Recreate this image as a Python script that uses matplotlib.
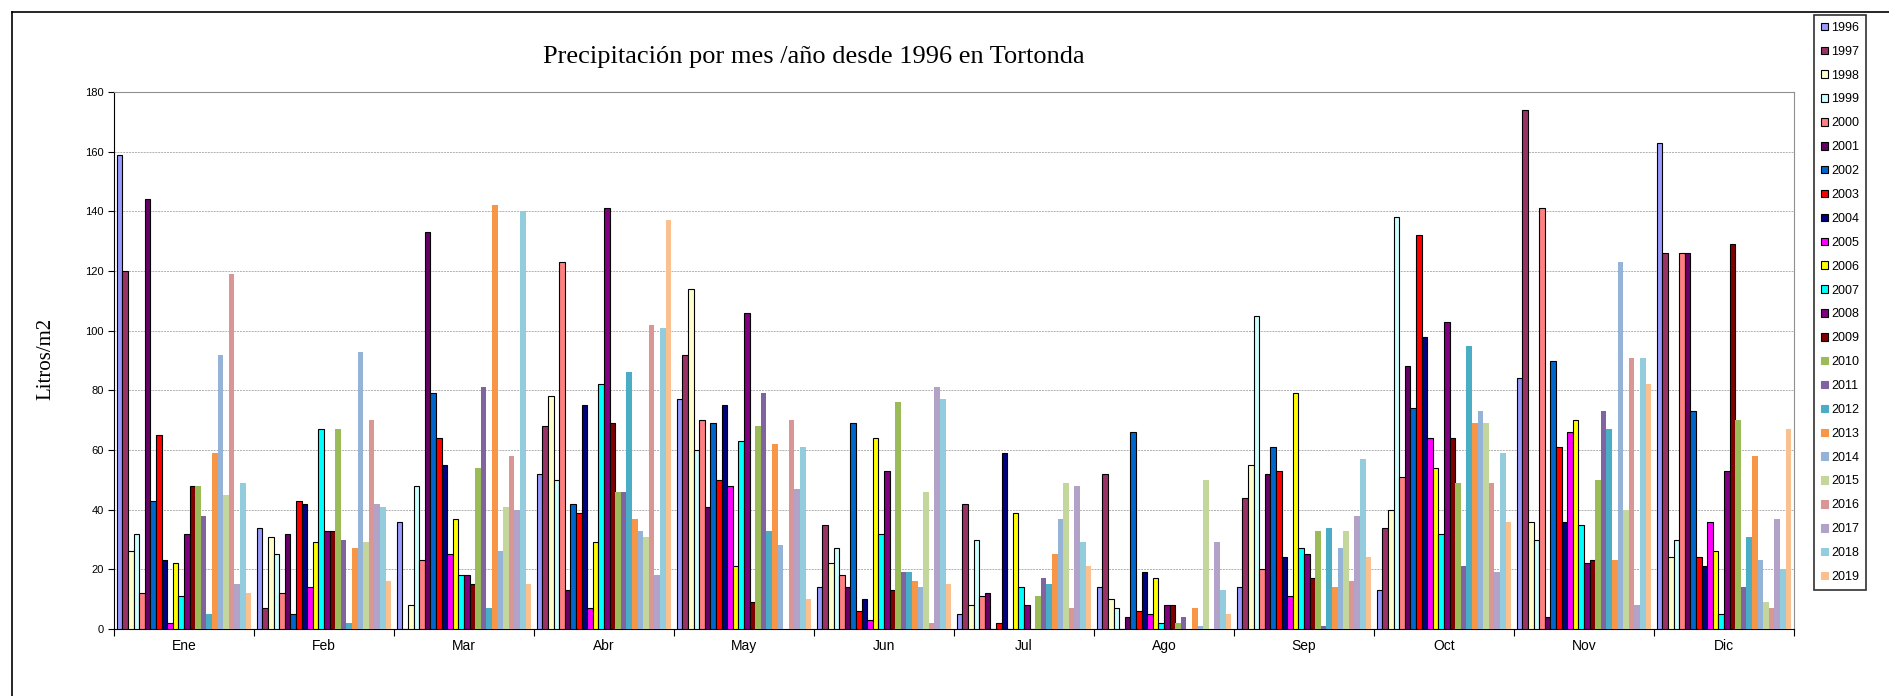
import numpy as np
import matplotlib
matplotlib.use("Agg")
import matplotlib.pyplot as plt
from matplotlib.patches import Patch
from matplotlib.lines import Line2D

meses = ["Ene", "Feb", "Mar", "Abr", "May", "Jun", "Jul", "Ago", "Sep", "Oct", "Nov", "Dic"]
anios = [str(a) for a in range(1996, 2020)]

# litros/m2 por año, un valor por mes (Ene..Dic)
y1996 = [159, 34, 36, 52, 77, 14, 5, 14, 14, 13, 84, 163]
y1997 = [120, 7, 0, 68, 92, 35, 42, 52, 44, 34, 174, 126]
y1998 = [26, 31, 8, 78, 114, 22, 8, 10, 55, 40, 36, 24]
y1999 = [32, 25, 48, 50, 60, 27, 30, 7, 105, 138, 30, 30]
y2000 = [12, 12, 23, 123, 70, 18, 11, 0, 20, 51, 141, 126]
y2001 = [144, 32, 133, 13, 41, 14, 12, 4, 52, 88, 4, 126]
y2002 = [43, 5, 79, 42, 69, 69, 0, 66, 61, 74, 90, 73]
y2003 = [65, 43, 64, 39, 50, 6, 2, 6, 53, 132, 61, 24]
y2004 = [23, 42, 55, 75, 75, 10, 59, 19, 24, 98, 36, 21]
y2005 = [2, 14, 25, 7, 48, 3, 0, 5, 11, 64, 66, 36]
y2006 = [22, 29, 37, 29, 21, 64, 39, 17, 79, 54, 70, 26]
y2007 = [11, 67, 18, 82, 63, 32, 14, 2, 27, 32, 35, 5]
y2008 = [32, 33, 18, 141, 106, 53, 8, 8, 25, 103, 22, 53]
y2009 = [48, 33, 15, 69, 9, 13, 0, 8, 17, 64, 23, 129]
y2010 = [48, 67, 54, 46, 68, 76, 11, 2, 33, 49, 50, 70]
y2011 = [38, 30, 81, 46, 79, 19, 17, 4, 1, 21, 73, 14]
y2012 = [5, 2, 7, 86, 33, 19, 15, 0, 34, 95, 67, 31]
y2013 = [59, 27, 142, 37, 62, 16, 25, 7, 14, 69, 23, 58]
y2014 = [92, 93, 26, 33, 28, 14, 37, 1, 27, 73, 123, 23]
y2015 = [45, 29, 41, 31, 0, 46, 49, 50, 33, 69, 40, 9]
y2016 = [119, 70, 58, 102, 70, 2, 7, 0, 16, 49, 91, 7]
y2017 = [15, 42, 40, 18, 47, 81, 48, 29, 38, 19, 8, 37]
y2018 = [49, 41, 140, 101, 61, 77, 29, 13, 57, 59, 91, 20]
y2019 = [12, 16, 15, 137, 10, 15, 21, 5, 24, 36, 82, 67]

series = [y1996, y1997, y1998, y1999, y2000, y2001, y2002, y2003, y2004, y2005,
          y2006, y2007, y2008, y2009, y2010, y2011, y2012, y2013, y2014, y2015,
          y2016, y2017, y2018, y2019]

colores = ["#9999FF", "#993366", "#FFFFCC", "#CCFFFF", "#FF8080", "#660066",
           "#0066CC", "#FF0000", "#000080", "#FF00FF", "#FFFF00", "#00FFFF",
           "#800080", "#800000", "#9BBB59", "#8064A2", "#4BACC6", "#F79646",
           "#95B3D7", "#C3D69B", "#D99694", "#B3A2C7", "#93CDDD", "#FAC090"]

W, H = 1890, 696
fig = plt.figure(figsize=(W / 100, H / 100), dpi=100)
ax = fig.add_axes([114 / W, 1 - 629 / H, (1794 - 114) / W, (629 - 92) / H])

x = np.arange(len(meses))
n = len(series)
w = 1.0 / (n + 1)
for j, (vals, c) in enumerate(zip(series, colores)):
    borde = "black" if j < 14 else "none"
    ax.bar(x + (j - (n - 1) / 2) * w, vals, width=w, color=c,
           edgecolor=borde, linewidth=0.8, label=anios[j], zorder=3)

ax.set_xlim(-0.5, len(meses) - 0.5)
ax.set_ylim(0, 180)
ax.set_yticks(np.arange(0, 181, 20))
ax.yaxis.grid(True, color="#b0b0b0", linestyle=(0, (2, 1)), linewidth=0.7, zorder=0)
ax.set_xticks(np.arange(-0.5, len(meses), 1))
ax.set_xticklabels([])
ax.set_xticks(x, minor=True)
ax.set_xticklabels(meses, minor=True, fontsize=10, family="Liberation Sans")
ax.tick_params(axis="x", which="major", length=5, direction="out")
ax.tick_params(axis="x", which="minor", length=0, pad=7)
ax.tick_params(axis="y", length=4, labelsize=8)
for lab in ax.get_yticklabels():
    lab.set_family("Liberation Sans")
for s in ["top", "right"]:
    ax.spines[s].set_color("#909090")
for s in ["left", "bottom"]:
    ax.spines[s].set_color("black")

fig.text(814 / W, 1 - 57 / H, "Precipitación por mes /año desde 1996 en Tortonda",
         ha="center", va="center", fontsize=19, family="Liberation Serif")
fig.text(46 / W, 1 - 359 / H, "Litros/m2", rotation=90, ha="center", va="center",
         fontsize=15, family="Liberation Serif")

handles = [Patch(facecolor=c, edgecolor="black" if j < 14 else c, linewidth=0.8)
           for j, c in enumerate(colores)]
leg = fig.legend(handles, anios, loc="upper left", bbox_to_anchor=(1814 / W, 1 - 15 / H),
                 prop={"family": "Liberation Sans", "size": 9},
                 handlelength=0.55, handleheight=0.55, handletextpad=0.25,
                 labelspacing=0.95, borderpad=0.55, borderaxespad=0,
                 fancybox=False, framealpha=1)
leg.get_frame().set_edgecolor("#303030")
leg.get_frame().set_linewidth(1.2)

# marco exterior del gráfico
fig.add_artist(Line2D([12 / W, 1], [1 - 12 / H, 1 - 12 / H], color="black", lw=1.2))
fig.add_artist(Line2D([12 / W, 12 / W], [0, 1 - 12 / H], color="black", lw=1.2))

fig.savefig("out.png", dpi=100)
